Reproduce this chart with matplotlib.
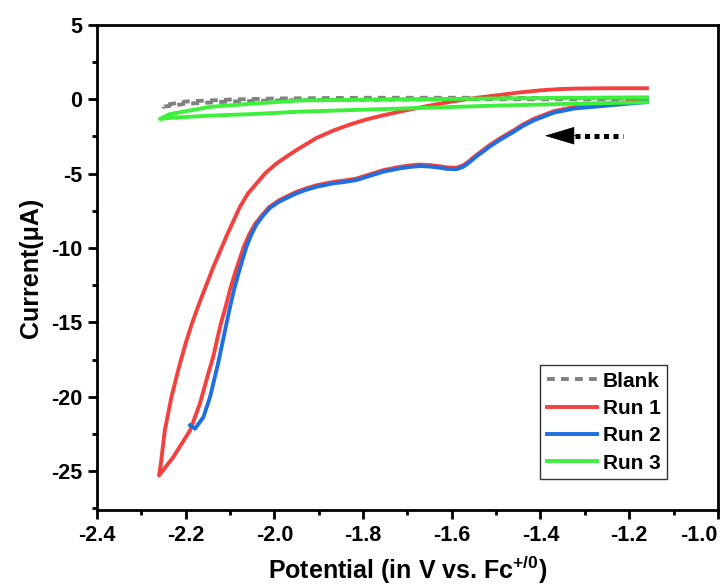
import matplotlib
matplotlib.use("Agg")
import matplotlib.pyplot as plt
from matplotlib.ticker import MultipleLocator

plt.rcParams['font.family'] = ['Liberation Sans', 'DejaVu Sans']
plt.rcParams['font.weight'] = 'bold'
plt.rcParams['axes.unicode_minus'] = False
plt.rcParams['mathtext.fontset'] = 'custom'
plt.rcParams['mathtext.rm'] = 'Liberation Sans:bold'
plt.rcParams['mathtext.bf'] = 'Liberation Sans:bold'

x_ticks = [-2.4, -2.2, -2.0, -1.8, -1.6, -1.4, -1.2, -1.0]
x_tick_labels = ['-2.4', '-2.2', '-2.0', '-1.8', '-1.6', '-1.4', '-1.2', '-1.0']

# blank electrolyte (closed loop)
blank_v = [-1.16, -1.3, -1.5, -1.7, -1.9, -2.0, -2.1, -2.2, -2.25,
           -2.25, -2.2, -2.1, -2.0, -1.8, -1.5, -1.3, -1.16]
blank_i = [0.0, 0.0, 0.0, -0.02, -0.05, -0.08, -0.15, -0.3, -0.5,
           -0.4, -0.15, -0.02, 0.05, 0.1, 0.1, 0.08, 0.05]

# run 1: cathodic sweep then return sweep
run1_v = [-1.16, -1.24, -1.324, -1.37, -1.414, -1.44, -1.46, -1.492, -1.515,
          -1.545, -1.565, -1.575, -1.59, -1.61, -1.627, -1.65, -1.672, -1.695,
          -1.717, -1.755, -1.785, -1.815, -1.84, -1.867, -1.905, -1.93, -1.95,
          -1.97, -1.99, -2.012, -2.028, -2.044, -2.057, -2.069, -2.079, -2.089,
          -2.1, -2.11, -2.12, -2.128, -2.137, -2.149, -2.168, -2.19, -2.228, -2.26,
          -2.256, -2.247, -2.232, -2.215, -2.2, -2.185, -2.168, -2.138,
          -2.108, -2.078, -2.06, -2.04, -2.02, -1.995, -1.97, -1.95, -1.905,
          -1.867, -1.83, -1.792, -1.755, -1.717, -1.68, -1.642, -1.605, -1.567,
          -1.53, -1.492, -1.45, -1.40, -1.36, -1.32, -1.25, -1.16]
run1_i = [-0.08, -0.3, -0.52, -0.8, -1.3, -1.7, -2.08, -2.64, -3.09,
          -3.76, -4.25, -4.45, -4.6, -4.58, -4.5, -4.42, -4.39, -4.45,
          -4.54, -4.77, -5.05, -5.33, -5.45, -5.55, -5.78, -6.0, -6.22,
          -6.5, -6.8, -7.25, -7.8, -8.4, -9.1, -9.92, -10.8, -11.71,
          -12.8, -13.96, -15.0, -16.0, -17.2, -18.44, -20.46, -22.25, -24.05, -25.28,
          -24.5, -22.25, -20.0, -18.0, -16.4, -15.0, -13.6, -11.3,
          -9.2, -7.25, -6.35, -5.65, -4.95, -4.31, -3.8, -3.41, -2.6,
          -2.1, -1.7, -1.35, -1.08, -0.83, -0.6, -0.38, -0.18, 0.0,
          0.15, 0.29, 0.45, 0.6, 0.68, 0.72, 0.74, 0.74]

# run 2: cathodic sweep only
run2_v = [-1.16, -1.24, -1.324, -1.37, -1.414, -1.44, -1.46, -1.492, -1.515,
          -1.545, -1.565, -1.575, -1.59, -1.61, -1.627, -1.65, -1.672, -1.695,
          -1.717, -1.755, -1.785, -1.815, -1.84, -1.867, -1.905, -1.93, -1.95,
          -1.97, -1.99, -2.01, -2.025, -2.04, -2.052, -2.063, -2.072, -2.081,
          -2.091, -2.1, -2.111, -2.127, -2.145, -2.16, -2.179, -2.19]
run2_i = [-0.18, -0.4, -0.62, -0.9, -1.4, -1.8, -2.18, -2.74, -3.19,
          -3.86, -4.35, -4.55, -4.7, -4.68, -4.6, -4.52, -4.49, -4.55,
          -4.64, -4.87, -5.15, -5.43, -5.55, -5.65, -5.88, -6.1, -6.32,
          -6.6, -6.9, -7.3, -7.8, -8.4, -9.1, -9.92, -10.8, -11.71,
          -12.8, -13.96, -15.5, -17.77, -20.0, -21.36, -22.14, -21.9]

# run 3: narrow loop
run3_v = [-1.16, -1.324, -1.492, -1.689, -1.942, -2.053, -2.145, -2.236, -2.258,
          -2.236, -2.145, -2.053, -1.942, -1.689, -1.506, -1.324, -1.16]
run3_i = [-0.2, -0.3, -0.42, -0.6, -0.83, -1.0, -1.1, -1.25, -1.32,
          -1.0, -0.51, -0.3, -0.08, 0.0, 0.05, 0.1, 0.13]

fig = plt.figure(figsize=(7.22, 5.88), dpi=100)
ax = fig.add_axes([0.1343, 0.1327, 0.860, 0.825])

lw = 2.8
ax.plot(blank_v, blank_i, color='#808080', lw=lw, ls=(0, (2, 1.6)), label='Blank')
ax.plot(run1_v, run1_i, color='#F2413F', lw=lw, label='Run 1',
        solid_joinstyle='round')
ax.plot(run2_v, run2_i, color='#1E6FE0', lw=lw, label='Run 2',
        solid_joinstyle='round')
ax.plot(run3_v, run3_i, color='#3CF03C', lw=lw, label='Run 3',
        solid_joinstyle='round')

# scan direction arrow
ax.plot([-1.322, -1.215], [-2.45, -2.45], color='k', lw=3.6, ls=(0, (1, 0.9)))
ax.annotate('', xy=(-1.39, -2.45), xytext=(-1.32, -2.45),
            arrowprops=dict(arrowstyle='-|>,head_length=2.0,head_width=0.6',
                            color='k', lw=0.5, shrinkA=0, shrinkB=0))

ax.set_xlim(-2.4, -1.0)
ax.set_ylim(-27.6, 5)
ax.set_xticks(x_ticks, x_tick_labels)
ax.xaxis.set_minor_locator(MultipleLocator(0.1))
ax.yaxis.set_major_locator(MultipleLocator(5))
ax.yaxis.set_minor_locator(MultipleLocator(2.5))

for s in ax.spines.values():
    s.set_linewidth(2.0)
ax.tick_params(which='major', direction='out', length=6.5, width=2.0,
               labelsize=15.5, pad=4)
ax.tick_params(which='minor', direction='out', length=3.5, width=2.0)

# keep the last x tick label inside the figure
ax.get_xticklabels()[-1].set_horizontalalignment('right')
ax.get_xticklabels()[-1].set_x(-0.985)

ax.set_xlabel(r'Potential (in V vs. Fc$^{+/0}$)', fontsize=18, fontweight='bold',
              labelpad=6)
ax.set_ylabel('Current(μA)', fontsize=18, fontweight='bold', labelpad=6)

leg = ax.legend(loc='lower right', bbox_to_anchor=(0.918, 0.064),
                prop={'weight': 'bold', 'size': 15}, frameon=True,
                fancybox=False, edgecolor='k', handlelength=2.4,
                handletextpad=0.3, labelspacing=0.4, borderpad=0.3,
                borderaxespad=0)
leg.get_frame().set_linewidth(1.0)

fig.savefig('out.png', dpi=100)
